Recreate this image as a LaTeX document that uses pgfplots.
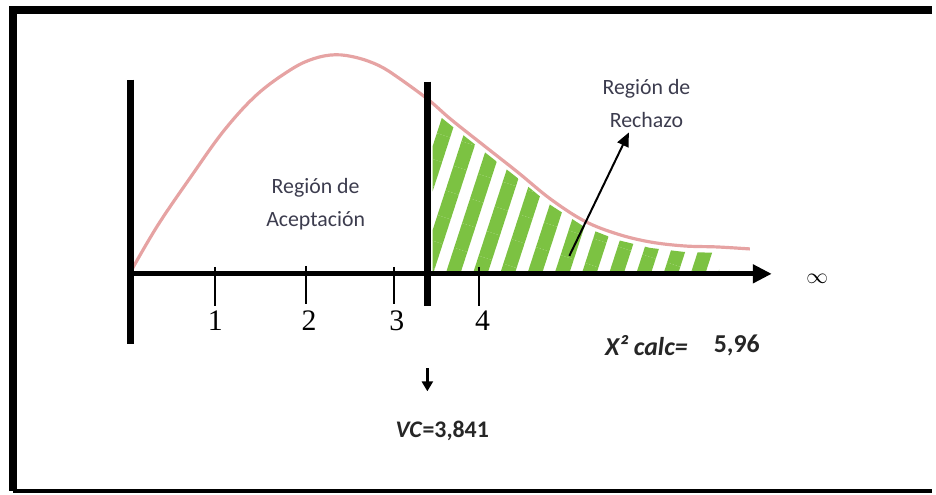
\documentclass[border=0pt]{standalone}
\usepackage{fontspec}
\setmainfont{Carlito}
\newfontfamily\tnr{Liberation Serif}
\usepackage{pgfplots}
\pgfplotsset{compat=1.18}
\usetikzlibrary{arrows.meta,patterns.meta}

\definecolor{curvepink}{RGB}{230,163,163}
\definecolor{hatchgreen}{RGB}{124,194,66}
\definecolor{labelgray}{RGB}{60,60,78}

\begin{document}
\begin{tikzpicture}
\begin{axis}[
    x=44bp, y=50bp,
    xmin=-1.4773, xmax=9.1591,
    ymin=-2.20, ymax=2.75,
    hide axis, clip=false,
]
% bounding box = picture
\path (rel axis cs:0,0) rectangle (rel axis cs:1,1);

% frame (left, top, bottom)
\addplot[black, line width=4bp, line cap=butt, line join=miter]
  coordinates {(9.1591,2.65) (-1.3295,2.65) (-1.3295,-2.18)};
\addplot[black, line width=2.2bp] coordinates {(-1.3295,-2.18) (9.1591,-2.18)};

% rejection region, hatched
\addplot[draw=none, pattern={Lines[angle=72, distance=13bp, line width=7bp]},
         pattern color=hatchgreen]
  coordinates {
  (3.46,0.0) (3.46,1.64) (3.67,1.49) (4.057,1.22) (4.432,0.96) (4.807,0.69)
  (5.193,0.47) (5.568,0.34) (5.943,0.26) (6.33,0.22) (6.73,0.21) (6.73,0.0)
  } --cycle;

% density curve
\addplot[curvepink, line width=1.6bp, smooth, tension=0.6]
  coordinates {
  (0,0.0) (0.318,0.48) (0.705,0.98) (1.08,1.44) (1.455,1.80) (1.84,2.05)
  (2.1,2.16) (2.35,2.20) (2.6,2.17) (2.85,2.09) (3.068,1.97) (3.409,1.75)
  (3.67,1.55) (4.057,1.28) (4.432,1.02) (4.807,0.75) (5.193,0.53)
  (5.568,0.40) (5.943,0.32) (6.33,0.28) (6.705,0.27) (7.08,0.25)
  };

% horizontal axis with arrow
\addplot[black, line width=2.5bp, -{Triangle[length=9.5bp, width=9bp]}]
  coordinates {(-0.02,0) (7.33,0)};
% left vertical line
\addplot[black, line width=3.5bp] coordinates {(0.01,1.95) (0.01,-0.70)};
% critical value line
\addplot[black, line width=3.3bp] coordinates {(3.40,1.93) (3.40,-0.32)};

% ticks
\addplot[black, line width=1bp] coordinates {(0.977,0.07) (0.977,-0.32)};
\addplot[black, line width=1bp] coordinates {(2.02,0.08) (2.02,-0.30)};
\addplot[black, line width=1bp] coordinates {(3.02,0.07) (3.02,-0.30)};
\addplot[black, line width=1bp] coordinates {(3.99,0.07) (3.99,-0.32)};

% tick labels
\node[font=\tnr\fontsize{15}{17}\selectfont] at (axis cs:0.98,-0.47) {1};
\node[font=\tnr\fontsize{15}{17}\selectfont] at (axis cs:2.05,-0.47) {2};
\node[font=\tnr\fontsize{15}{17}\selectfont] at (axis cs:3.05,-0.47) {3};
\node[font=\tnr\fontsize{15}{17}\selectfont] at (axis cs:4.03,-0.47) {4};

\node[font=\fontsize{11}{14}\selectfont] at (axis cs:7.85,-0.05) {$\infty$};

% region labels
\node[font=\fontsize{11}{17}\selectfont, text=labelgray, align=center]
  at (axis cs:2.125,0.70) {Región de\\Aceptación};
\node[font=\fontsize{11}{17}\selectfont, text=labelgray, align=center]
  at (axis cs:5.90,1.71) {Región de\\Rechazo};
\draw[black, line width=1bp, -{Triangle[length=7bp, width=6bp]}]
  (axis cs:5.02,0.18) -- (axis cs:5.70,1.42);

% critical value and statistic
\draw[black, line width=1.5bp, -{Triangle[length=5bp, width=5.5bp]}]
  (axis cs:3.40,-0.95) -- (axis cs:3.40,-1.18);
\node[font=\bfseries\fontsize{12}{14}\selectfont, text=black!85]
  at (axis cs:3.57,-1.58) {\textit{VC}=3,841};
\node[font=\bfseries\itshape\fontsize{13}{15}\selectfont, text=black!85]
  at (axis cs:5.90,-0.72) {X² calc=};
\node[font=\bfseries\fontsize{13}{15}\selectfont, text=black!85]
  at (axis cs:6.93,-0.72) {5,96};
\end{axis}
\end{tikzpicture}
\end{document}
